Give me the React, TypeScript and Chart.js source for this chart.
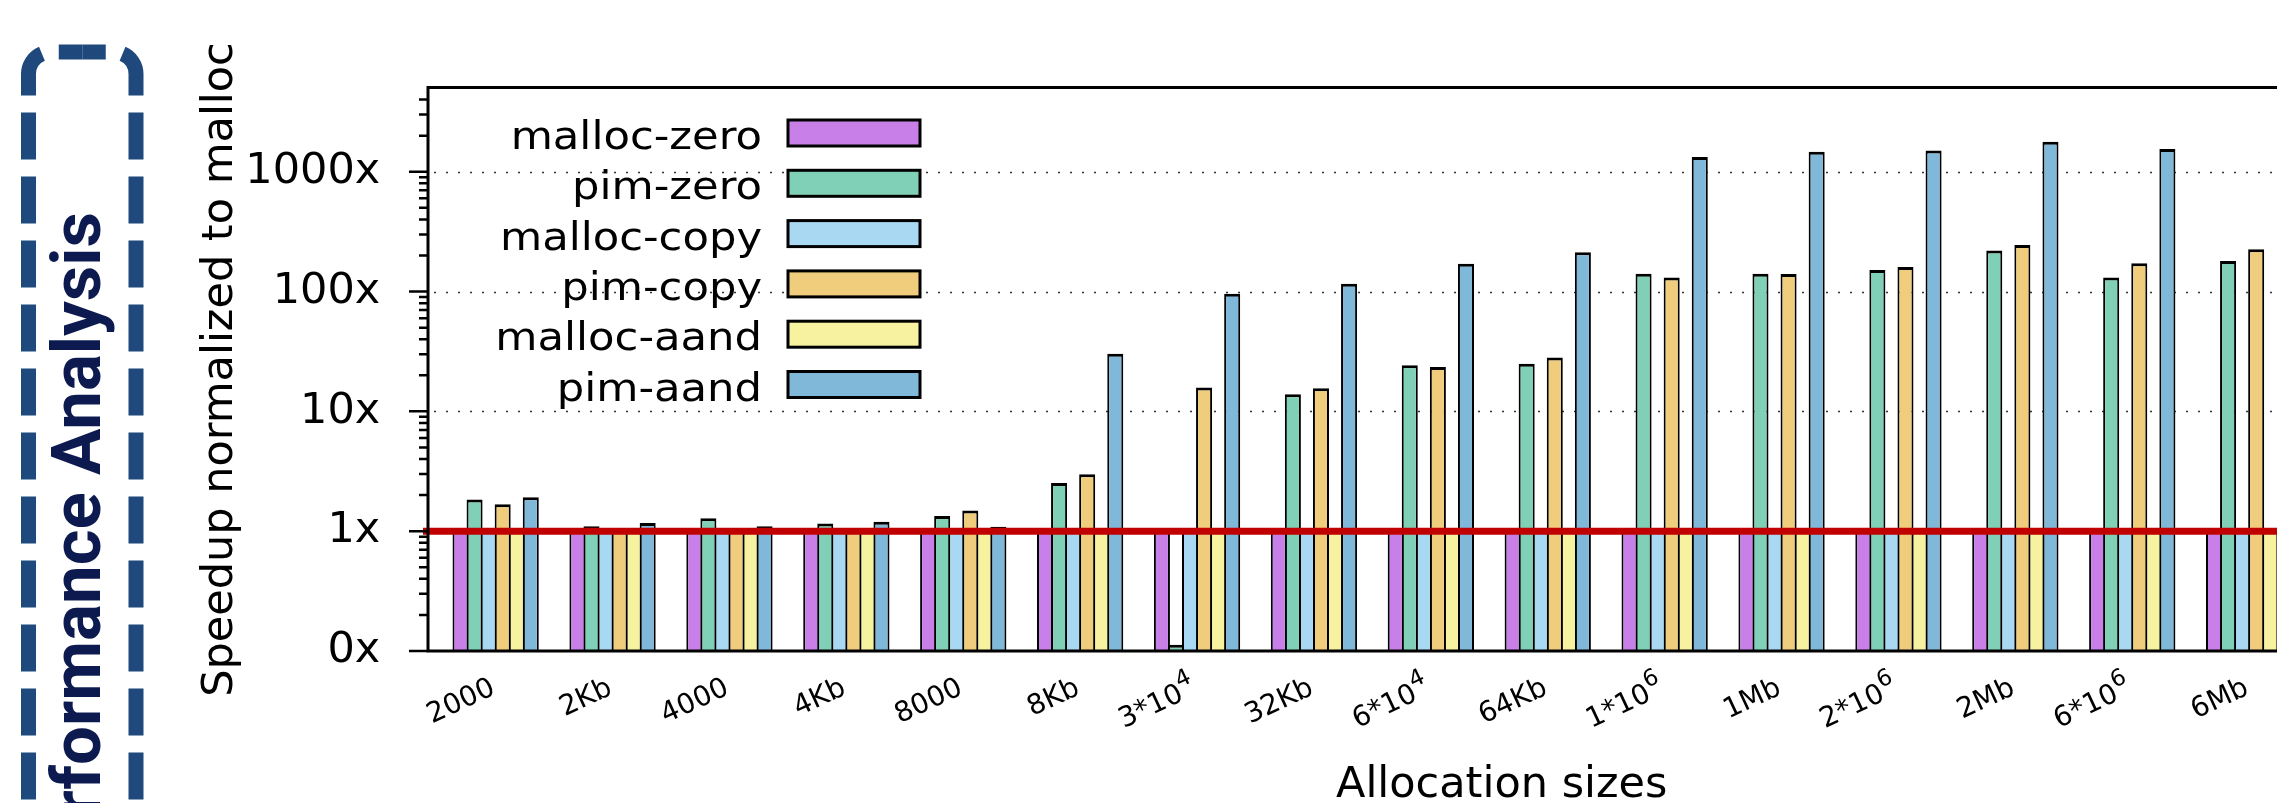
import React, { useEffect, useRef } from 'react';
import { Chart, registerables } from 'chart.js';

Chart.register(...registerables);

// ---------------- data ----------------
// "^" marks a superscript exponent in a label
const categories = [
  '2000', '2Kb', '4000', '4Kb', '8000', '8Kb', '3*10^4', '32Kb',
  '6*10^4', '64Kb', '1*10^6', '1Mb', '2*10^6', '2Mb', '6*10^6', '6Mb',
];

const seriesLabels = ['malloc-zero', 'pim-zero', 'malloc-copy', 'pim-copy', 'malloc-aand', 'pim-aand'];

const mallocZero = [1, 1, 1, 1, 1, 1, 1, 1, 1, 1, 1, 1, 1, 1, 1, 1];
const pimZero = [1.84, 1.1, 1.28, 1.16, 1.34, 2.52, 0.113, 13.9, 24.3, 25, 141, 141, 151, 220, 131, 180];
const mallocCopy = [1, 1, 1, 1, 1, 1, 1, 1, 1, 1, 1, 1, 1, 1, 1, 1];
const pimCopy = [1.68, 1.0, 1.0, 1.0, 1.49, 2.99, 15.8, 15.6, 23.5, 28.1, 131, 140, 160, 245, 172, 226];
const mallocAand = [1, 1, 1, 1, 1, 1, 1, 1, 1, 1, 1, 1, 1, 1, 1, 1];
const pimAand = [1.92, 1.17, 1.1, 1.2, 1.09, 30.3, 95.7, 116, 171, 213, 1330, 1470, 1502, 1778, 1549, null];

const seriesValues = [mallocZero, pimZero, mallocCopy, pimCopy, mallocAand, pimAand];
const seriesColors = ['#c880e8', '#80d0b8', '#a8d8f2', '#f0cd7d', '#f6f2a0', '#80b8da'];

const yTickValues = [0.1, 1, 10, 100, 1000];
const yTickLabels = ['0x', '1x', '10x', '100x', '1000x'];
const yMinorTicks = [
  0.2, 0.3, 0.4, 0.5, 0.6, 0.7, 0.8, 0.9,
  2, 3, 4, 5, 6, 7, 8, 9,
  20, 30, 40, 50, 60, 70, 80, 90,
  200, 300, 400, 500, 600, 700, 800, 900,
  2000, 3000, 4000,
];
const gridValues = [10, 100, 1000];
const baselineValue = 1;
const yMin = 0.1;
const yMax = 5000;

const xTitle = 'Allocation sizes';
const yTitle = 'Speedup normalized to malloc';
const sideLabel = 'Performance Analysis';

const CANVAS_W = 2400;
const CANVAS_H = 803;
const AXIS_X = 428;

function drawPerfBox(ctx: CanvasRenderingContext2D) {
  const L = 28.5, R = 136, T = 52, r = 22, B = 1000;
  const mid = (L + R) / 2;
  ctx.save();
  ctx.strokeStyle = '#1f497d';
  ctx.lineWidth = 15;
  ctx.lineCap = 'butt';
  ctx.setLineDash([47, 17]);
  ctx.lineDashOffset = 23.5;
  ctx.beginPath();
  ctx.moveTo(mid, T);
  ctx.lineTo(R - r, T);
  ctx.arcTo(R, T, R, T + r, r);
  ctx.lineTo(R, B);
  ctx.stroke();
  ctx.beginPath();
  ctx.moveTo(mid, T);
  ctx.lineTo(L + r, T);
  ctx.arcTo(L, T, L, T + r, r);
  ctx.lineTo(L, B);
  ctx.stroke();
  ctx.restore();

  ctx.save();
  ctx.fillStyle = '#0c1a50';
  ctx.font = 'bold 69px Roboto';
  ctx.textAlign = 'right';
  ctx.textBaseline = 'alphabetic';
  ctx.translate(100, 212);
  ctx.rotate(-Math.PI / 2);
  ctx.fillText(sideLabel, 0, 0);
  ctx.restore();
}

function drawXLabels(chart: any) {
  const { ctx, chartArea } = chart;
  const x = chart.scales.x;
  const angle = (25 * Math.PI) / 180;
  ctx.save();
  ctx.fillStyle = '#000';
  ctx.textAlign = 'right';
  ctx.textBaseline = 'alphabetic';
  categories.forEach((lab, i) => {
    const px = x.getPixelForValue(i) + 1;
    const py = chartArea.bottom + 42.5;
    const [base, sup] = lab.split('^');
    ctx.save();
    ctx.translate(px, py);
    ctx.rotate(-angle);
    let end = 0;
    if (sup) {
      ctx.font = "23px 'DejaVu Sans'";
      ctx.fillText(sup, 0, -13);
      end = -ctx.measureText(sup).width;
    }
    ctx.font = "28px 'DejaVu Sans'";
    ctx.fillText(base, end, 0);
    ctx.restore();
  });
  ctx.restore();
}

const decorPlugin = {
  id: 'decor',
  beforeDatasetsDraw(chart: any) {
    const { ctx } = chart;
    const y = chart.scales.y;
    ctx.save();
    ctx.strokeStyle = '#333';
    ctx.lineWidth = 1.5;
    ctx.setLineDash([2, 10]);
    gridValues.forEach((v) => {
      const py = Math.round(y.getPixelForValue(v)) + 0.5;
      ctx.beginPath();
      ctx.moveTo(AXIS_X + 6, py);
      ctx.lineTo(chart.width, py);
      ctx.stroke();
    });
    ctx.restore();
  },
  afterDatasetsDraw(chart: any) {
    const { ctx, chartArea } = chart;
    const y = chart.scales.y;
    const W = chart.width;
    // red baseline
    ctx.save();
    const by = y.getPixelForValue(baselineValue);
    ctx.strokeStyle = '#c00000';
    ctx.lineWidth = 7;
    ctx.beginPath();
    ctx.moveTo(AXIS_X - 5, by);
    ctx.lineTo(W, by);
    ctx.stroke();
    ctx.restore();

    // frame
    ctx.save();
    ctx.strokeStyle = '#000';
    ctx.lineWidth = 3;
    ctx.beginPath();
    ctx.moveTo(AXIS_X, chartArea.top - 2);
    ctx.lineTo(AXIS_X, chartArea.bottom + 1.5);
    ctx.moveTo(AXIS_X - 1.5, chartArea.bottom);
    ctx.lineTo(W, chartArea.bottom);
    ctx.moveTo(AXIS_X - 1.5, chartArea.top - 0.5);
    ctx.lineTo(W, chartArea.top - 0.5);
    ctx.stroke();
    // ticks
    ctx.lineWidth = 2.5;
    ctx.beginPath();
    yTickValues.forEach((v) => {
      const py = y.getPixelForValue(v);
      ctx.moveTo(AXIS_X - 19, py);
      ctx.lineTo(AXIS_X, py);
    });
    yMinorTicks.forEach((v) => {
      const py = y.getPixelForValue(v);
      ctx.moveTo(AXIS_X - 9, py);
      ctx.lineTo(AXIS_X, py);
    });
    ctx.stroke();
    ctx.restore();

    drawXLabels(chart);

    // x-axis title
    ctx.save();
    ctx.fillStyle = '#000';
    ctx.font = "43px 'DejaVu Sans'";
    ctx.textAlign = 'center';
    ctx.textBaseline = 'alphabetic';
    ctx.fillText(xTitle, 1501.7, 797);
    ctx.restore();

    // legend
    ctx.save();
    chart.data.datasets.forEach((ds: any, i: number) => {
      const cy = 133 + i * 50.3;
      ctx.fillStyle = ds.backgroundColor;
      ctx.fillRect(788, cy - 13, 132, 26);
      ctx.strokeStyle = '#000';
      ctx.lineWidth = 3;
      ctx.strokeRect(788, cy - 13, 132, 26);
      ctx.save();
      ctx.fillStyle = '#000';
      ctx.font = "39px 'DejaVu Sans'";
      ctx.textAlign = 'right';
      ctx.textBaseline = 'alphabetic';
      ctx.translate(762, cy + 16);
      ctx.scale(1.11, 1);
      ctx.fillText(ds.label, 0, 0);
      ctx.restore();
    });
    ctx.restore();

    drawPerfBox(ctx);
  },
};

export default function App() {
  const canvasRef = useRef<HTMLCanvasElement | null>(null);

  useEffect(() => {
    if (!canvasRef.current) return;
    Chart.defaults.font.family = "'DejaVu Sans', sans-serif";
    Chart.defaults.color = '#000';
    const chart = new Chart(canvasRef.current, {
      type: 'bar',
      data: {
        labels: categories,
        datasets: seriesLabels.map((label, si) => ({
          label,
          data: seriesValues[si],
          backgroundColor: seriesColors[si],
          borderColor: '#000',
          borderWidth: { top: 3, left: 2, right: 2, bottom: 0 },
          borderSkipped: false,
          categoryPercentage: 0.7211,
          barPercentage: 1.1423,
        })),
      },
      options: {
        responsive: false,
        animation: false,
        events: [],
        layout: { padding: { left: 0, top: 88, right: 92.4, bottom: 0 } },
        plugins: { legend: { display: false }, tooltip: { enabled: false } },
        scales: {
          x: {
            type: 'category',
            offset: true,
            grid: { display: false },
            border: { display: false },
            ticks: { display: false, autoSkip: false },
            title: { display: false },
            afterFit: (s: any) => { s.height = 152; },
          },
          y: {
            type: 'logarithmic',
            min: yMin,
            max: yMax,
            grid: { display: false },
            border: { display: false },
            afterBuildTicks: (s: any) => { s.ticks = yTickValues.map((v) => ({ value: v })); },
            ticks: {
              autoSkip: false,
              padding: 49,
              font: { size: 43 },
              color: '#000',
              callback: (v: any) => {
                const i = yTickValues.indexOf(Number(v));
                return i >= 0 ? yTickLabels[i] : '';
              },
            },
            title: {
              display: true,
              text: yTitle,
              font: { size: 43, lineHeight: 1 },
              padding: { top: 199.5, bottom: 0 },
              color: '#000',
            },
            afterFit: (s: any) => { s.width = 437.2; },
          },
        },
      } as any,
      plugins: [decorPlugin],
    });
    return () => chart.destroy();
  }, []);

  return (
    <div style={{ position: 'fixed', left: 0, top: 0, width: 2277, height: 803, overflow: 'hidden', background: '#fff' }}>
      <canvas ref={canvasRef} width={CANVAS_W} height={CANVAS_H} style={{ width: CANVAS_W, height: CANVAS_H, display: 'block' }} />
    </div>
  );
}
